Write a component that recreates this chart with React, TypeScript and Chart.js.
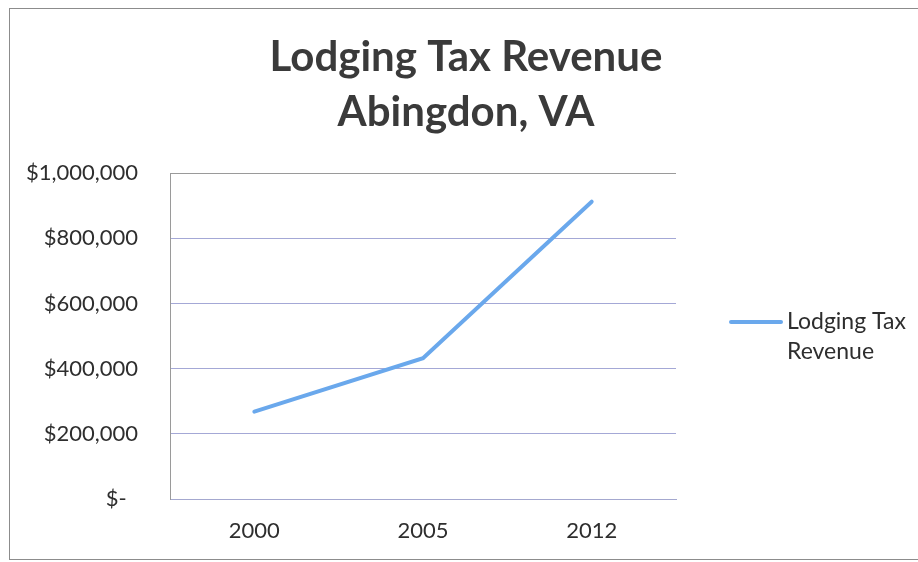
import React, { useEffect, useRef } from "react";
import { Chart, registerables } from "chart.js";

Chart.register(...registerables);

const titleLines = ["Lodging Tax Revenue", "Abingdon, VA"];
const years = ["2000", "2005", "2012"];
const revenue = [268000, 432000, 912000];
const seriesName = "Lodging Tax Revenue";
const legendLines = ["Lodging Tax", "Revenue"];
const yMin = 0;
const yMax = 1000000;
const yStep = 200000;

const FONT = "Lato, 'Open Sans', sans-serif";
const LINE_COLOR = "#6aa8ec";

const legendPlugin = {
  id: "wrapLegend",
  afterDraw(chart: any) {
    const { ctx, chartArea } = chart;
    const ds = chart.data.datasets[0];
    const x0 = chartArea.right + 55;
    const y0 = 322;
    ctx.save();
    ctx.strokeStyle = ds.borderColor;
    ctx.lineWidth = 4;
    ctx.lineCap = "round";
    ctx.beginPath();
    ctx.moveTo(x0, y0);
    ctx.lineTo(x0 + 50, y0);
    ctx.stroke();
    ctx.fillStyle = "#2e2e2e";
    ctx.font = `23px ${FONT}`;
    ctx.textBaseline = "middle";
    ctx.textAlign = "left";
    legendLines.forEach((t, i) => ctx.fillText(t, x0 + 56, y0 + i * 30));
    ctx.restore();
  },
};

export default function App() {
  const ref = useRef<HTMLCanvasElement>(null);
  useEffect(() => {
    if (!ref.current) return;
    const chart = new Chart(ref.current, {
      type: "line",
      data: {
        labels: years,
        datasets: [
          {
            label: seriesName,
            data: revenue,
            borderColor: LINE_COLOR,
            backgroundColor: LINE_COLOR,
            borderWidth: 4,
            pointRadius: 0,
            tension: 0,
            borderCapStyle: "round",
            yAxisID: "y",
          },
        ],
      },
      options: {
        responsive: false,
        animation: false,
        layout: { padding: { left: 14, right: 0, top: 0, bottom: 0 } },
        plugins: {
          legend: { display: false },
          tooltip: { enabled: false },
          title: {
            display: true,
            text: titleLines,
            color: "#3a3a3a",
            font: { family: FONT, size: 42, weight: "bold", lineHeight: 1.31 },
            padding: { top: 30, bottom: 33 },
          },
        },
        scales: {
          x: {
            offset: true,
            grid: { display: false, drawTicks: false },
            border: { display: true, color: "#a4a8cf", width: 1 },
            ticks: {
              color: "#2e2e2e",
              font: { family: FONT, size: 22 },
              padding: 19,
            },
            afterFit: (s: any) => {
              s.height = 63;
            },
          },
          y: {
            min: yMin,
            max: yMax,
            grid: {
              drawTicks: false,
              color: (c: any) =>
                c.tick && c.tick.value === yMax ? "#9a9a9a" : "#a4a8d6",
              lineWidth: 1,
            },
            border: { display: true, color: "#9a9a9a", width: 1 },
            ticks: {
              stepSize: yStep,
              color: "#2e2e2e",
              font: { family: FONT, size: 22 },
              padding: 32,
              callback: (v: any) =>
                Number(v) === 0 ? "$-  " : "$" + Number(v).toLocaleString("en-US"),
            },
            afterFit: (s: any) => {
              s.width = 156;
            },
          },
          legendSpace: {
            type: "linear",
            position: "right",
            display: true,
            grid: { display: false, drawTicks: false },
            border: { display: false },
            ticks: { display: false },
            afterFit: (s: any) => {
              s.width = 242;
            },
          },
        },
      },
      plugins: [legendPlugin],
    } as any);
    return () => chart.destroy();
  }, []);

  return (
    <div
      style={{
        position: "fixed",
        left: 0,
        top: 0,
        width: 918,
        height: 562,
        overflow: "hidden",
        background: "#fff",
      }}
    >
      <canvas ref={ref} width={918} height={562} style={{ display: "block" }} />
      <div
        style={{
          position: "absolute",
          left: 9,
          top: 8,
          width: 920,
          height: 552,
          border: "1px solid #8c8c8c",
          boxSizing: "border-box",
          pointerEvents: "none",
        }}
      />
    </div>
  );
}
